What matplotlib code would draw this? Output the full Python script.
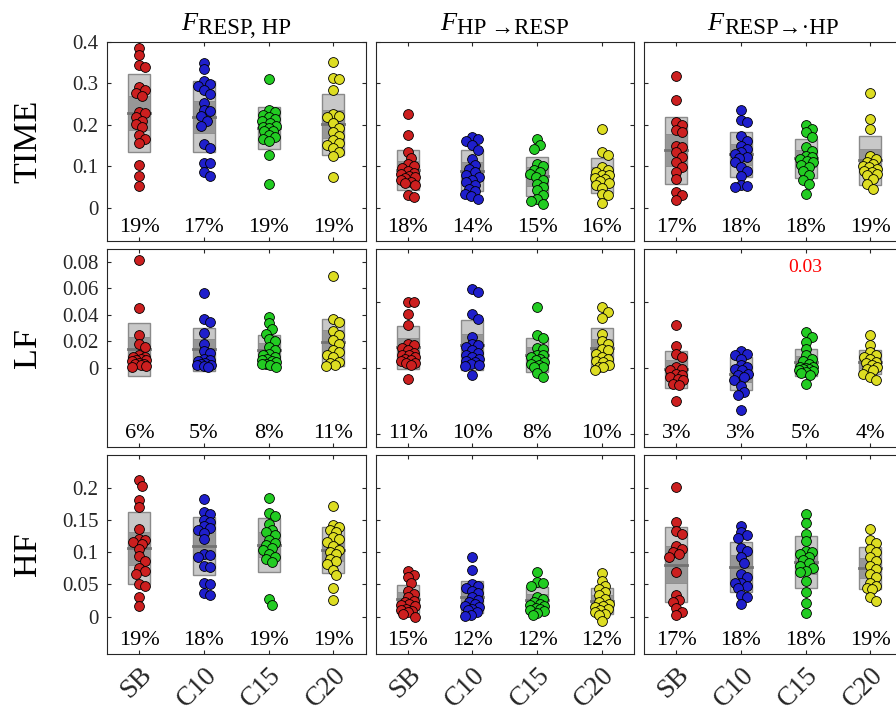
import numpy as np
import matplotlib
matplotlib.use('Agg')
import matplotlib.pyplot as plt
import matplotlib.transforms as mtransforms
from matplotlib.patches import Rectangle

plt.rcParams['font.family'] = ['Liberation Serif', 'DejaVu Serif']

conditions = ['SB', 'C10', 'C15', 'C20']
row_names = ['TIME', 'LF', 'HF']
title_subs = ['RESP, HP', 'HP \u2192RESP', 'RESP\u2192\u00b7HP']
colors = ['#cc1f1f', '#1f1fcc', '#22cc22', '#dddd22']

# ---- TIME ----
time_joint = [
    [0.386, 0.368, 0.344, 0.340, 0.291, 0.285, 0.278, 0.270, 0.232, 0.228, 0.218, 0.210, 0.202, 0.195, 0.176, 0.166, 0.157, 0.103, 0.077, 0.052],
    [0.349, 0.334, 0.305, 0.299, 0.295, 0.284, 0.275, 0.253, 0.236, 0.234, 0.222, 0.210, 0.198, 0.154, 0.145, 0.109, 0.107, 0.086, 0.077],
    [0.311, 0.236, 0.230, 0.224, 0.218, 0.214, 0.210, 0.204, 0.198, 0.195, 0.192, 0.186, 0.185, 0.176, 0.170, 0.165, 0.160, 0.127, 0.058],
    [0.352, 0.313, 0.310, 0.284, 0.226, 0.222, 0.218, 0.204, 0.192, 0.182, 0.174, 0.163, 0.157, 0.151, 0.145, 0.135, 0.125, 0.075],
]
time_hp2resp = [
    [0.226, 0.176, 0.134, 0.120, 0.106, 0.100, 0.096, 0.089, 0.085, 0.082, 0.077, 0.074, 0.072, 0.068, 0.063, 0.060, 0.054, 0.030, 0.026],
    [0.172, 0.166, 0.160, 0.152, 0.140, 0.118, 0.104, 0.094, 0.086, 0.080, 0.074, 0.068, 0.062, 0.055, 0.046, 0.040, 0.034, 0.028, 0.022],
    [0.166, 0.152, 0.142, 0.106, 0.100, 0.092, 0.086, 0.081, 0.074, 0.066, 0.058, 0.050, 0.042, 0.030, 0.022, 0.017, 0.010],
    [0.190, 0.134, 0.128, 0.098, 0.092, 0.086, 0.080, 0.078, 0.072, 0.070, 0.065, 0.060, 0.054, 0.049, 0.034, 0.030, 0.012],
]
time_resp2hp = [
    [0.318, 0.260, 0.206, 0.200, 0.188, 0.184, 0.150, 0.146, 0.134, 0.122, 0.110, 0.098, 0.086, 0.070, 0.038, 0.032, 0.018],
    [0.236, 0.212, 0.206, 0.174, 0.162, 0.150, 0.142, 0.134, 0.130, 0.122, 0.120, 0.110, 0.098, 0.088, 0.077, 0.055, 0.052, 0.050],
    [0.200, 0.190, 0.182, 0.170, 0.146, 0.138, 0.126, 0.122, 0.118, 0.112, 0.110, 0.104, 0.098, 0.090, 0.078, 0.066, 0.058, 0.034],
    [0.276, 0.214, 0.190, 0.124, 0.118, 0.110, 0.106, 0.102, 0.098, 0.094, 0.090, 0.086, 0.082, 0.078, 0.070, 0.058, 0.046],
]

# ---- LF ----
lf_joint = [
    [0.0815, 0.045, 0.0245, 0.018, 0.016, 0.010, 0.0085, 0.008, 0.007, 0.0063, 0.0058, 0.005, 0.004, 0.0033, 0.0028, 0.002, 0.0013, 0.0008],
    [0.0565, 0.0365, 0.0345, 0.026, 0.018, 0.0128, 0.011, 0.007, 0.0058, 0.005, 0.004, 0.0033, 0.0025, 0.002, 0.0013, 0.0008],
    [0.0383, 0.0338, 0.0295, 0.0258, 0.0215, 0.0205, 0.0158, 0.0133, 0.0108, 0.0095, 0.0083, 0.007, 0.0058, 0.005, 0.0045, 0.0033, 0.003, 0.002, 0.0008],
    [0.0695, 0.037, 0.0345, 0.028, 0.025, 0.021, 0.018, 0.0133, 0.012, 0.0095, 0.008, 0.0045, 0.004, 0.002, 0.0013],
]
lf_hp2resp = [
    [0.050, 0.0493, 0.0408, 0.032, 0.0183, 0.017, 0.0153, 0.0133, 0.0113, 0.010, 0.0095, 0.0083, 0.007, 0.006, 0.0053, 0.004, 0.0038, 0.002, -0.008],
    [0.0595, 0.057, 0.0408, 0.037, 0.0233, 0.0183, 0.017, 0.0158, 0.0133, 0.011, 0.0095, 0.008, 0.007, 0.005, 0.0045, 0.003, 0.002, 0.0013, -0.005],
    [0.0458, 0.025, 0.0225, 0.0153, 0.014, 0.010, 0.0095, 0.0083, 0.007, 0.006, 0.0045, 0.003, 0.002, 0.001, 0.0008, -0.0038, -0.0068],
    [0.0458, 0.0425, 0.0378, 0.0258, 0.020, 0.0183, 0.0145, 0.0133, 0.0108, 0.008, 0.007, 0.005, 0.0045, 0.002, 0.001, 0.0008, -0.0018],
]
lf_resp2hp = [
    [0.032, 0.0163, 0.0108, 0.0083, 0.0008, -0.0005, -0.0018, -0.0043, -0.0055, -0.0068, -0.008, -0.0093, -0.0118, -0.013, -0.0248],
    [0.0125, 0.0108, 0.0095, 0.007, 0.002, 0.0008, -0.001, -0.0018, -0.0043, -0.005, -0.0068, -0.0088, -0.0138, -0.018, -0.0205, -0.0318],
    [0.027, 0.0233, 0.0195, 0.0145, 0.0095, 0.007, 0.0053, 0.0033, 0.001, 0.0008, 0.000, -0.0005, -0.001, -0.0018, -0.002, -0.003, -0.004, -0.0055, -0.0118],
    [0.0245, 0.017, 0.012, 0.0095, 0.0083, 0.007, 0.0045, 0.004, 0.002, 0.0008, -0.001, -0.0018, -0.0043, -0.0068, -0.0093],
]

# ---- HF ----
hf_joint = [
    [0.212, 0.203, 0.181, 0.170, 0.136, 0.120, 0.119, 0.116, 0.113, 0.105, 0.094, 0.087, 0.075, 0.071, 0.066, 0.051, 0.047, 0.031, 0.016],
    [0.182, 0.163, 0.160, 0.150, 0.147, 0.140, 0.137, 0.134, 0.130, 0.120, 0.098, 0.096, 0.092, 0.079, 0.077, 0.053, 0.051, 0.036, 0.033],
    [0.185, 0.161, 0.157, 0.144, 0.135, 0.132, 0.127, 0.119, 0.115, 0.111, 0.106, 0.103, 0.098, 0.092, 0.089, 0.085, 0.027, 0.018],
    [0.172, 0.142, 0.139, 0.134, 0.132, 0.123, 0.120, 0.116, 0.109, 0.104, 0.101, 0.097, 0.090, 0.087, 0.081, 0.073, 0.065, 0.045, 0.026],
]
hf_hp2resp = [
    [0.071, 0.065, 0.061, 0.053, 0.040, 0.035, 0.030, 0.025, 0.022, 0.020, 0.018, 0.016, 0.012, 0.010, 0.008, 0.007, 0.004, 0.000],
    [0.092, 0.073, 0.051, 0.048, 0.044, 0.040, 0.036, 0.030, 0.026, 0.022, 0.020, 0.017, 0.015, 0.012, 0.010, 0.007, 0.003, 0.001],
    [0.069, 0.054, 0.052, 0.048, 0.030, 0.027, 0.022, 0.020, 0.018, 0.016, 0.013, 0.012, 0.010, 0.008, 0.005, 0.003],
    [0.067, 0.056, 0.048, 0.043, 0.038, 0.033, 0.027, 0.022, 0.020, 0.017, 0.015, 0.012, 0.010, 0.007, 0.004, 0.002, -0.006],
]
hf_resp2hp = [
    [0.2015, 0.147, 0.133, 0.128, 0.109, 0.105, 0.100, 0.097, 0.093, 0.069, 0.034, 0.026, 0.022, 0.014, 0.007, 0.002],
    [0.141, 0.131, 0.127, 0.122, 0.107, 0.102, 0.092, 0.083, 0.066, 0.061, 0.053, 0.052, 0.047, 0.044, 0.033, 0.030, 0.019],
    [0.160, 0.146, 0.129, 0.118, 0.102, 0.101, 0.097, 0.093, 0.088, 0.083, 0.079, 0.076, 0.071, 0.069, 0.056, 0.038, 0.021, 0.005],
    [0.136, 0.119, 0.115, 0.105, 0.100, 0.092, 0.087, 0.079, 0.074, 0.066, 0.061, 0.053, 0.048, 0.045, 0.043, 0.030, 0.025],
]

# percentages printed under each group
pct_time = [[19, 17, 19, 19], [18, 14, 15, 16], [17, 18, 18, 19]]
pct_lf = [[6, 5, 8, 11], [11, 10, 8, 10], [3, 3, 5, 4]]
pct_hf = [[19, 18, 19, 19], [15, 12, 12, 12], [17, 18, 18, 19]]

# axis ranges / ticks
ylims = [(-0.08, 0.40), (-0.06, 0.09), (-0.058, 0.251)]
yticks_first = [[0, 0.1, 0.2, 0.3, 0.4], [0, 0.02, 0.04, 0.06, 0.08], [0, 0.05, 0.1, 0.15, 0.2]]
ytick_labels = [['0', '0.1', '0.2', '0.3', '0.4'], ['0', '0.02', '0.04', '0.06', '0.08'],
                ['0', '0.05', '0.1', '0.15', '0.2']]
yticks_other = [[0, 0.1, 0.2, 0.3, 0.4], [-0.05, 0, 0.05], [0, 0.05, 0.1, 0.15, 0.2]]

panels = [[time_joint, time_hp2resp, time_resp2hp],
          [lf_joint, lf_hp2resp, lf_resp2hp],
          [hf_joint, hf_hp2resp, hf_resp2hp]]
pcts = [pct_time, pct_lf, pct_hf]

W, H = 896, 715
fig = plt.figure(figsize=(W / 100, H / 100), dpi=100)

lefts = [107, 375.5, 644]
tops = [42, 248.5, 455]
aw, ah = 258.5, 199
bw = 0.34
ink = '#262626'


def spread(vals, ppu_y, ppu_x, d=9.5):
    # small swarm: nudge overlapping points sideways (they may still overlap a bit)
    placed = []
    offs = []
    cand = [0, 3, -3, 6, -6, 1.5, -1.5, 4.5, -4.5, 7, -7]
    for v in vals:
        y = v * ppu_y
        best, best_d = 0, -1
        for cx in cand:
            dm = min([np.hypot(cx - px, y - py) for px, py in placed], default=1e9)
            if dm >= 0.62 * d:
                best = cx
                break
            if dm > best_d:
                best, best_d = cx, dm
        placed.append((best, y))
        offs.append(best / ppu_x)
    return np.array(offs)


for r in range(3):
    for c in range(3):
        ax = fig.add_axes([lefts[c] / W, 1 - (tops[r] + ah) / H, aw / W, ah / H])
        ax.set_xlim(0.5, 4.5)
        ax.set_ylim(*ylims[r])
        ppu_x = aw / 4.0
        ppu_y = ah / (ylims[r][1] - ylims[r][0])
        trans = mtransforms.blended_transform_factory(ax.transData, ax.transAxes)
        for k, vals in enumerate(panels[r][c]):
            v = np.asarray(vals)
            x0 = k + 1
            m = v.mean()
            sd = v.std(ddof=1)
            ci = 1.96 * sd / np.sqrt(len(v))
            ax.add_patch(Rectangle((x0 - bw / 2, m - sd), bw, 2 * sd, fc='#c8c8c8',
                                   ec='#8a8a8a', lw=1.0, zorder=1))
            ax.add_patch(Rectangle((x0 - bw / 2, m - ci), bw, 2 * ci, fc='#979797',
                                   ec='#8a8a8a', lw=0.6, zorder=2))
            ax.plot([x0 - bw / 2, x0 + bw / 2], [m, m], color='#727272', lw=2.0, zorder=3)
            ax.scatter(x0 + spread(v, ppu_y, ppu_x), v, s=50, c=colors[k],
                       edgecolors='black', linewidths=0.6, zorder=4)
            ax.text(x0, 0.068, '%d%%' % pcts[r][c][k], transform=trans, ha='center',
                    va='center', fontsize=16, color='black')

        ax.set_xticks([1, 2, 3, 4])
        if r == 2:
            ax.set_xticklabels(conditions, rotation=45, ha='right', va='top',
                               rotation_mode='anchor', fontsize=19.5, color=ink)
            shift = mtransforms.ScaledTranslation(7 / 100, 2 / 100, fig.dpi_scale_trans)
            for lab in ax.get_xticklabels():
                lab.set_transform(lab.get_transform() + shift)
        else:
            ax.set_xticklabels([])
        if c == 0:
            ax.set_yticks(yticks_first[r])
            ax.set_yticklabels(ytick_labels[r], fontsize=15, color=ink)
        else:
            ax.set_yticks(yticks_other[r])
            ax.set_yticklabels([])
        ax.tick_params(direction='in', length=3, width=0.8, top=True, right=True,
                       color=ink)
        ax.tick_params(axis='y', pad=6)
        ax.tick_params(axis='x', pad=6)
        for sp in ax.spines.values():
            sp.set_color(ink)
            sp.set_linewidth(0.8)

        if r == 1 and c == 2:
            ax.text(3, 0.905, '0.03', transform=trans, ha='center', va='center',
                    fontsize=14, color='red')

# column titles: italic F followed by a large subscript, centred over each column
fig.canvas.draw()
rend = fig.canvas.get_renderer()
for c in range(3):
    t1 = fig.text(0, 1 - 29.5 / H, 'F', fontsize=19, style='italic', va='baseline')
    t2 = fig.text(0, 1 - 33.5 / H, title_subs[c], fontsize=16.5, va='baseline')
    w1 = t1.get_window_extent(rend).width
    w2 = t2.get_window_extent(rend).width
    x_start = lefts[c] + aw / 2 - (w1 + 1 + w2) / 2
    t1.set_x(x_start / W)
    t2.set_x((x_start + w1 + 1) / W)

# row labels
for r in range(3):
    fig.text(28 / W, 1 - (tops[r] + ah / 2) / H, row_names[r], rotation=90,
             ha='center', va='center', fontsize=24.5)

fig.savefig('out.png', dpi=100)
